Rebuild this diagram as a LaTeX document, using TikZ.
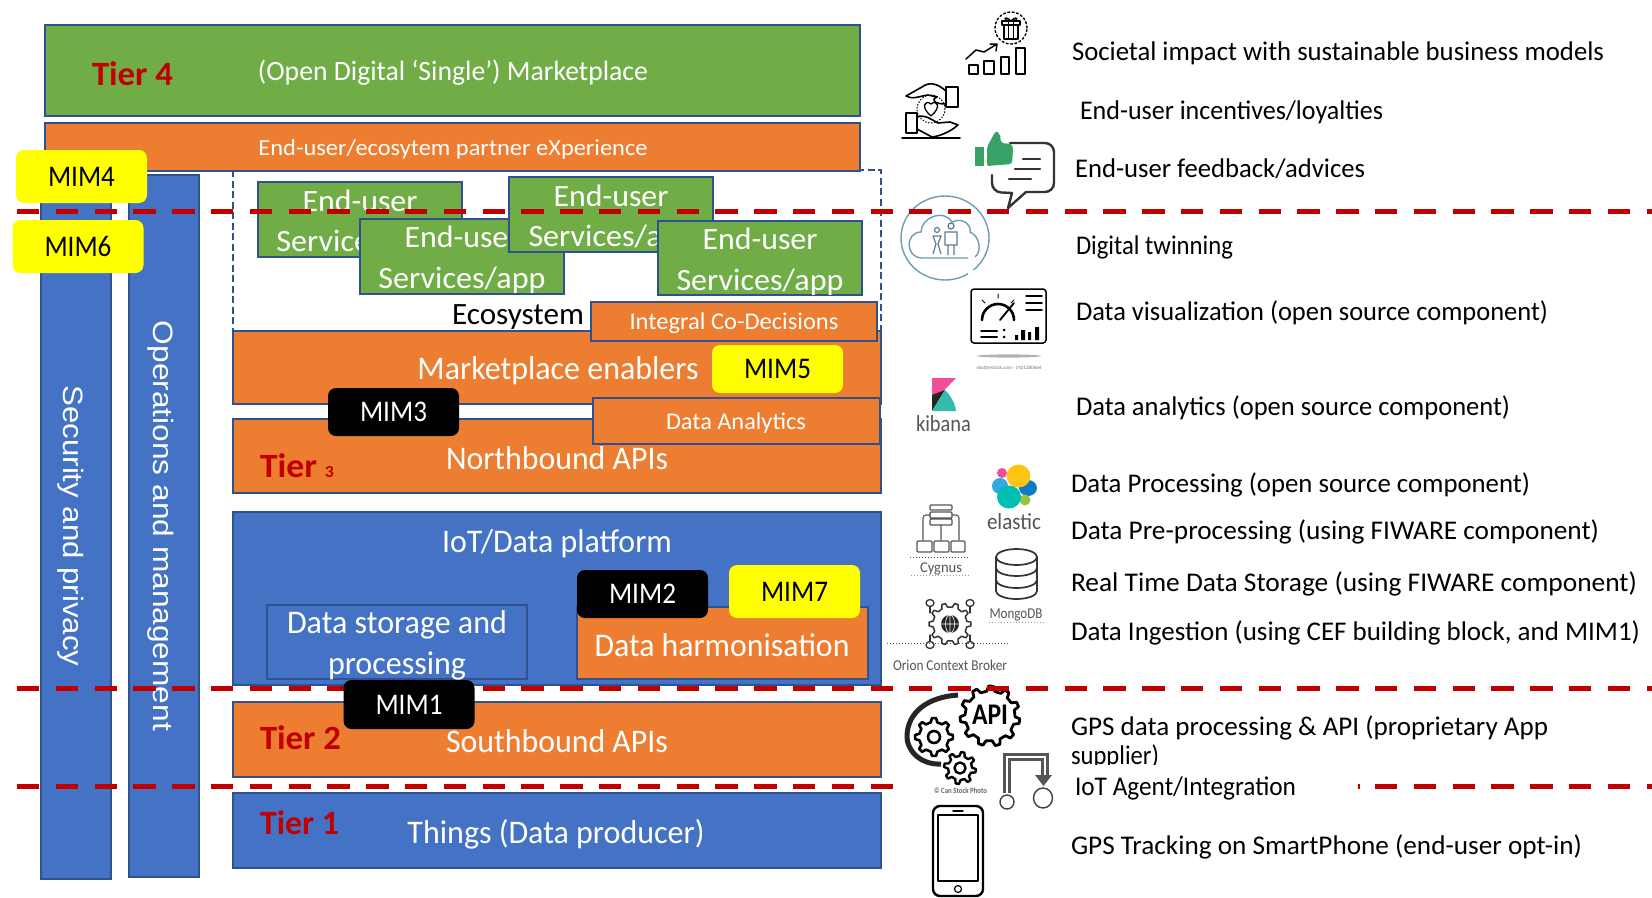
\documentclass[tikz,border=0pt]{standalone}
\usepackage{fontspec}
\usepackage{graphicx}
\setmainfont{Carlito}
\newfontfamily\arialf{Liberation Sans}
\usetikzlibrary{calc}
\definecolor{gbox}{HTML}{70AD47}
\definecolor{obox}{HTML}{ED7D31}
\definecolor{bbox}{HTML}{4472C4}
\definecolor{edge}{HTML}{2F528F}
\definecolor{redd}{HTML}{C00000}
\definecolor{yell}{HTML}{FFFF00}
\definecolor{thumbg}{HTML}{37A266}
\definecolor{twin}{HTML}{6E9DB5}
\definecolor{gy}{HTML}{555555}
\definecolor{pinkk}{HTML}{F04E98}
\definecolor{tealk}{HTML}{36BCAB}
\definecolor{bluel}{HTML}{2FA9E0}
\definecolor{blued}{HTML}{0E7CC2}
\definecolor{greene}{HTML}{93C83E}
\definecolor{yele}{HTML}{FEC514}
\definecolor{teale}{HTML}{00BFB3}
\tikzset{
  grn/.style={fill=gbox,draw=edge,line width=1.8pt},
  org/.style={fill=obox,draw=edge,line width=1.8pt},
  blu/.style={fill=bbox,draw=edge,line width=1.8pt},
  lay/.style={inner sep=0pt,outer sep=0pt,text=white,anchor=base,yshift=1pt},
  rgt/.style={inner sep=0pt,outer sep=0pt,text=black,anchor=base west,yshift=1pt,font=\fontsize{27}{32}\selectfont},
  tier/.style={inner sep=0pt,outer sep=0pt,text=redd,anchor=base west,font=\fontsize{34}{40}\selectfont\bfseries},
  mimy/.style={fill=yell,rounded corners=8pt,text=black,minimum width=131pt,minimum height=53pt,inner sep=0pt,font=\fontsize{30}{34}\selectfont},
  mimk/.style={fill=black,rounded corners=8pt,text=white,minimum width=131pt,minimum height=48pt,inner sep=0pt,font=\fontsize{30}{34}\selectfont},
  rdash/.style={draw=redd,line width=5pt,dash pattern=on 22.4pt off 16.4pt},
  ic/.style={draw=black,line width=1.8pt,line join=round,line cap=round},
  logot/.style={inner sep=0pt,outer sep=0pt,text=gy,anchor=base},
}
\newcommand{\fitw}[2]{\resizebox{#1pt}{\height}{#2}}
\newcommand{\cog}[7]{% cx cy ri ro n style rot
  \begin{scope}[shift={(#1,#2)}]
  \draw[#6] (#7-0.25*360/#5:#3)
   \foreach \k in {1,...,#5}{
     -- ({#7+(\k-1)*360/#5-0.14*360/#5}:#4)
     -- ({#7+(\k-1)*360/#5+0.14*360/#5}:#4)
     -- ({#7+(\k-1)*360/#5+0.28*360/#5}:#3)
     -- ({#7+\k*360/#5-0.28*360/#5}:#3)
   } -- cycle;
  \end{scope}}
\begin{document}
\begin{tikzpicture}[x=1pt,y=-1pt]
\useasboundingbox (0,0) rectangle (1652,897);
% ---- bars and layers
\fill[white] (0,0) rectangle (1652,897);
\draw[edge,line width=1.5pt,dash pattern=on 7pt off 3.5pt] (233,170) rectangle (881,331);
\draw[grn] (45,25) rectangle (860,116);
\draw[org] (45,123) rectangle (860,171);
\draw[blu] (41,175) rectangle (111,879);
\draw[blu] (129,175) rectangle (199,877);
\node[lay,rotate=-90,anchor=center,font=\fontsize{28}{32}\selectfont\arialf] (secur) at (71,527) {\fitw{281}{Security and privacy}};
\node[lay,rotate=-90,anchor=center,font=\fontsize{28}{32}\selectfont\arialf] (opman) at (161,527) {\fitw{410}{Operations and management}};
\node[tier] (t4) at (92,85) {\fitw{81}{Tier 4}};
\node[lay,font=\fontsize{28}{32}\selectfont] (odm) at (453,81) {\fitw{390}{(Open Digital ‘Single’) Marketplace}};
\node[lay,font=\fontsize{23}{28}\selectfont] (exp) at (453,156) {\fitw{389}{End-user/ecosytem partner eXperience}};
% ---- end-user services
\draw[grn] (258,182) rectangle (462,257);
\node[lay,font=\fontsize{31}{36}\selectfont] (ea1) at (360,212) {\fitw{115}{End-user}};
\node[lay,font=\fontsize{31}{36}\selectfont] (ea2) at (360,252) {\fitw{167}{Services/app}};
\draw[grn] (360,219) rectangle (564,294);
\node[lay,font=\fontsize{31}{36}\selectfont] (eb1) at (462,248) {\fitw{115}{End-user}};
\node[lay,font=\fontsize{31}{36}\selectfont] (eb2) at (462,289) {\fitw{167}{Services/app}};
\draw[grn] (509,177) rectangle (713,252);
\node[lay,font=\fontsize{31}{36}\selectfont] (ec1) at (611,207) {\fitw{115}{End-user}};
\node[lay,font=\fontsize{31}{36}\selectfont] (ec2) at (612,247) {\fitw{167}{Services/app}};
\draw[grn] (658,221) rectangle (862,295);
\node[lay,font=\fontsize{31}{36}\selectfont] (ed1) at (760,250) {\fitw{115}{End-user}};
\node[lay,font=\fontsize{31}{36}\selectfont] (ed2) at (760,291) {\fitw{167}{Services/app}};
\node[lay,text=black,font=\fontsize{31}{36}\selectfont] (ecos) at (518,325) {\fitw{132}{Ecosystem}};
% ---- tier 3
\draw[org] (233,331) rectangle (881,404);
\node[lay,font=\fontsize{33}{38}\selectfont] (mpe) at (558,380) {\fitw{281}{Marketplace enablers}};
\draw[org] (233,419) rectangle (881,493);
\node[lay,font=\fontsize{33}{38}\selectfont] (nba) at (557,470) {\fitw{222}{Northbound APIs}};
\node[tier] (t3) at (260,477) {\fitw{74}{Tier {\fontsize{17}{17}\selectfont 3}}};
\draw[org] (591,302) rectangle (877,341);
\node[lay,font=\fontsize{24}{28}\selectfont] (icd) at (734,330) {\fitw{209}{Integral Co-Decisions}};
\draw[org] (593,398) rectangle (880,444);
\node[lay,font=\fontsize{24}{28}\selectfont] (dan) at (736,430) {\fitw{140}{Data Analytics}};
% ---- platform
\draw[blu] (233,512) rectangle (881,685);
\node[lay,font=\fontsize{33}{38}\selectfont] (iot) at (557,553) {\fitw{230}{IoT/Data platform}};
\draw[blu] (267,605) rectangle (527,679);
\node[lay,font=\fontsize{33}{38}\selectfont] (ds1) at (397,634) {\fitw{220}{Data storage and}};
\node[lay,font=\fontsize{33}{38}\selectfont] (ds2) at (397,675) {\fitw{138}{processing}};
\draw[org] (577,607) rectangle (868,679);
\node[lay,font=\fontsize{33}{38}\selectfont] (dh) at (722,657) {\fitw{255}{Data harmonisation}};
% ---- tiers 2 and 1
\draw[org] (233,702) rectangle (881,777);
\node[lay,font=\fontsize{33}{38}\selectfont] (sba) at (557,753) {\fitw{222}{Southbound APIs}};
\node[tier] (t2) at (260,749) {\fitw{81}{Tier 2}};
\draw[blu] (233,793) rectangle (881,868);
\node[lay,font=\fontsize{33}{38}\selectfont] (thg) at (556,844) {\fitw{297}{Things (Data producer)}};
\node[tier] (t1) at (260,834) {\fitw{79}{Tier 1}};
% ---- right-hand texts
\node[rgt] (r1) at (1072,61) {\fitw{532}{Societal impact with sustainable business models}};
\node[rgt] (r2) at (1080,120) {\fitw{303}{End-user incentives/loyalties}};
\node[rgt] (r3) at (1075,178) {\fitw{290}{End-user feedback/advices}};
\node[rgt] (r4) at (1076,255) {\fitw{157}{Digital twinning}};
\node[rgt] (r5) at (1076,321) {\fitw{472}{Data visualization (open source component)}};
\node[rgt] (r6) at (1076,416) {\fitw{434}{Data analytics (open source component)}};
\node[rgt] (r7) at (1071,493) {\fitw{459}{Data Processing (open source component)}};
\node[rgt] (r8) at (1071,540) {\fitw{528}{Data Pre-processing (using FIWARE component)}};
\node[rgt] (r9) at (1071,592) {\fitw{566}{Real Time Data Storage (using FIWARE component)}};
\node[rgt] (r10) at (1071,641) {\fitw{569}{Data Ingestion (using CEF building block, and MIM1)}};
\node[rgt] (r11) at (1071,736) {\fitw{477}{GPS data processing \& API (proprietary App}};
\node[rgt] (r12) at (1071,765) {\fitw{88}{supplier)}};
\fill[white] (893,765) rectangle (1357,812);
\node[rgt] (r13) at (1075,796) {\fitw{221}{IoT Agent/Integration}};
\node[rgt] (r14) at (1071,855) {\fitw{511}{GPS Tracking on SmartPhone (end-user opt-in)}};
% ---- icon: gift and growth
\draw[ic,line width=1.4pt,dash pattern=on 2pt off 2.4pt] (1011,28) circle [x radius=16pt,y radius=16pt];
\draw[ic,line width=1.3pt] (1004,25) rectangle (1018,39);
\draw[ic,line width=1.3pt] (1002,21) rectangle (1020,25);
\draw[ic,line width=1.3pt] (1008.5,21)--(1008.5,39) (1013.5,21)--(1013.5,39);
\draw[ic,line width=1.3pt] (1011,21) .. controls (1004,14) and (1002,21) .. (1011,21) .. controls (1020,21) and (1018,14) .. (1011,21);
\draw[ic,line width=1.5pt] (969,65) rectangle (978,74) (984,61) rectangle (994,74) (1001,57) rectangle (1009,74) (1016,48) rectangle (1025,74);
\draw[ic,line width=1.5pt] (966,59) -- (976,50) -- (984,52) -- (997,44) (990,44)--(997,44)--(996,51);
% ---- icon: hands and heart
\draw[ic,line width=1.6pt] (946,87) rectangle (958,107);
\draw[ic,line width=1.6pt] (946,91) .. controls (938,84) and (930,81) .. (922,87) -- (906,96) .. controls (912,100) and (920,96) .. (928,95) -- (937,97) .. controls (930,100) and (935,104) .. (946,104);
\draw[ic,line width=1.6pt] (906,113) rectangle (917,133);
\draw[ic,line width=1.6pt] (917,117) .. controls (925,114) and (932,120) .. (938,123) -- (950,122) -- (958,125) .. controls (950,132) and (940,136) .. (932,137) -- (917,129);
\draw[ic,line width=1.8pt] (902,138)--(960,138);
\draw[ic,line width=1.3pt] (931,116) .. controls (920,107) and (925,99) .. (931,104) .. controls (937,99) and (942,107) .. (931,116);
\draw[ic,line width=1pt,dotted] (931,109) circle [x radius=14pt,y radius=14pt];
% ---- icon: feedback
\fill[thumbg] (975,147) rectangle (984,166);
\fill[thumbg,rounded corners=2pt] (987,147) -- (994,134) -- (996,131) -- (1000,134) -- (1001,143) -- (1012,144) -- (1013,150) -- (1012,164) -- (987,166) -- cycle;
\draw[ic,draw=black!80,line width=2.4pt,rounded corners=9pt] (1010,143) -- (1054,143) -- (1054,192) -- (1026,192);
\draw[ic,draw=black!80,line width=2.4pt] (1026,192) -- (1008,208) -- (1012,193);
\draw[ic,draw=black!80,line width=2.4pt,rounded corners=9pt] (1012,193) -- (992,192) -- (992,175);
\draw[ic,draw=black!80,line width=2.2pt] (1023,159)--(1040,159) (1015,169)--(1040,169) (1009,179)--(1031,179);
% ---- icon: digital twin
\draw[twin,line width=1.4pt] (945,238) ellipse [x radius=44pt,y radius=42pt];
\fill[white] (968,270) rectangle (985,285);
\draw[twin,line width=1.4pt] (968,258) -- (922,258) .. controls (905,258) and (905,232) .. (921,232) .. controls (921,218) and (943,208) .. (952,222) .. controls (965,216) and (972,228) .. (970,232) .. controls (980,236) and (982,252) .. (975,257);
\draw[twin!80!black,line width=1.3pt] (951,226) circle [x radius=3pt,y radius=3pt] (945,232) rectangle (957,245) (948,245)--(948,255) (954,245)--(954,255);
\draw[twin!80!black,line width=1.2pt] (937,230) circle [x radius=2.5pt,y radius=2.5pt] (933,236)--(941,236)--(938,244)--(941,254) (933,236)--(936,244)--(933,254);
% ---- icon: dashboard
\draw[ic,line width=1.5pt,rounded corners=3pt] (971,289) rectangle (1046,343);
\draw[ic,line width=2.6pt] (982,320) arc[start angle=180,end angle=0,x radius=16pt,y radius=16pt];
\draw[ic,line width=1.8pt] (1000,320)--(1014,303);
\draw[ic,line width=1pt] (998,294)--(998,298) (982,300)--(985,303) (1014,300)--(1011,303);
\draw[ic,line width=1.5pt] (1026,296)--(1042,296) (1026,303)--(1042,303) (1026,310)--(1042,310);
\draw[ic,line width=2pt] (981,331)--(997,331) (981,337)--(997,337);
\fill (1004,330) circle [x radius=1.5pt,y radius=1.5pt] (1004,337) circle [x radius=1.5pt,y radius=1.5pt];
\fill (1015,335) rectangle (1018,340) (1021,330) rectangle (1025,340) (1028,332) rectangle (1031,340) (1035,327) rectangle (1039,340);
\fill[black!30] (1009,356) ellipse [x radius=32pt,y radius=1.6pt];
\node[logot,text=black!55,font=\fontsize{5}{6}\selectfont] (sst) at (1009,369) {\fitw{65}{shutterstock.com · 1421280664}};
% ---- icon: kibana
\fill[pinkk] (932,378) -- (956,378) -- (932,403) -- cycle;
\fill[black!85] (932,395) -- (945,390) -- (932,411) -- cycle;
\fill[tealk] (956,411) -- (932,411) -- (945,390) .. controls (951,396) and (955,403) .. (956,411) -- cycle;
\node[logot,font=\fontsize{23}{26}\selectfont] (kib) at (943.5,431) {\fitw{55}{kibana}};
% ---- icon: elastic
\fill[bluel] (1000,486) ellipse [x radius=8pt,y radius=8pt];
\fill[blued] (1028,488) ellipse [x radius=9pt,y radius=8pt];
\fill[pinkk] (1002,473) ellipse [x radius=5pt,y radius=5pt];
\fill[greene] (1025,500) ellipse [x radius=5.5pt,y radius=5.5pt];
\fill[yele] (1018.5,476) ellipse [x radius=12pt,y radius=11.5pt];
\fill[teale] (1009,497) ellipse [x radius=12pt,y radius=11.5pt];
\node[logot,font=\fontsize{23}{26}\selectfont] (ela) at (1014,529) {\fitw{54}{elastic}};
% ---- icon: cygnus
\draw[ic,draw=gy,line width=1.3pt,rounded corners=1pt] (930,505) rectangle (952,510) (930,512) rectangle (952,518) (930,519) rectangle (952,525);
\draw[ic,draw=gy,line width=1.1pt,rounded corners=3pt] (930,515)--(923,515)--(923,540) (952,515)--(959,515)--(959,540) (941,525)--(941,540);
\draw[ic,draw=gy,line width=1.2pt,rounded corners=1pt] (917,541) rectangle (932,552) (934,541) rectangle (949,552) (951,541) rectangle (965,552);
\draw[gy,line width=1pt,dotted] (910,557)--(969,557);
\node[logot,font=\fontsize{15}{18}\selectfont] (cyg) at (941,572) {\fitw{42}{Cygnus}};
\draw[bbox!70,line width=1pt,dotted] (911,575)--(969,575);
% ---- icon: mongodb
\draw[ic,draw=black!80,line width=1.7pt] (1016.5,557) ellipse [x radius=20.5pt,y radius=8pt];
\draw[ic,draw=black!80,line width=1.7pt] (996,557)--(996,591) arc[start angle=180,end angle=360,x radius=20.5pt,y radius=8pt] -- (1037,557);
\draw[ic,draw=black!80,line width=1.7pt] (996,568) arc[start angle=180,end angle=360,x radius=20.5pt,y radius=8pt] (996,580) arc[start angle=180,end angle=360,x radius=20.5pt,y radius=8pt];
\node[logot,font=\fontsize{15}{18}\selectfont] (mon) at (1016,618) {\fitw{53}{MongoDB}};
\draw[bbox!70,line width=1pt,dotted] (989,622)--(1044,622);
% ---- icon: orion
\cog{950}{624}{17}{21}{10}{ic,draw=black!80,line width=1.5pt}{0}
\fill[black!85] (950,624) circle [x radius=9pt,y radius=9pt];
\draw[white,line width=.6pt] (941,624)--(959,624) (950,615)--(950,633) (950,624) ellipse [x radius=4.5pt,y radius=9pt];
\draw[ic,draw=black!80,line width=1.2pt] (930,607)--(930,613) (970,607)--(970,613) (930,635)--(930,641) (970,635)--(970,641);
\draw[ic,draw=black!80,line width=1.3pt] (930,603) circle [x radius=4pt,y radius=3.5pt] (970,603) circle [x radius=4pt,y radius=3.5pt] (930,645) circle [x radius=4pt,y radius=3.5pt] (970,645) circle [x radius=4pt,y radius=3.5pt];
\draw[gy,line width=1pt,dotted] (887,643)--(1010,643);
\node[logot,font=\fontsize{15}{18}\selectfont] (ori) at (950,670) {\fitw{114}{Orion Context Broker}};
% ---- icon: api and gears
\draw[black!85,line width=5pt,line cap=butt] (958,695) .. controls (928,697) and (907,712) .. (907,737) .. controls (907,750) and (920,765) .. (941,764);
\cog{990}{716}{25}{30}{11}{ic,line width=2.8pt,fill=white}{10}
\node[inner sep=0pt,text=black,font=\fontsize{30}{34}\selectfont\bfseries] (api) at (990,715) {\fitw{36}{API}};
\cog{934}{737}{15}{19}{8}{ic,line width=2.6pt,fill=white}{0}
\draw[ic,line width=2.6pt] (934,737) circle [x radius=6pt,y radius=6pt];
\cog{960}{768}{12}{16}{8}{ic,line width=2.4pt,fill=white}{10}
\draw[ic,line width=2.4pt] (960,768) circle [x radius=5.5pt,y radius=5.5pt];
\node[logot,text=black!60,font=\fontsize{8}{9}\selectfont\bfseries] (csp) at (960.5,793) {\fitw{53}{© Can Stock Photo}};
% ---- icon: integration
\draw[gy,line width=3.4pt,double=white,double distance=1.8pt] (1007,793)--(1007,757)--(1045,757)--(1045,775);
\fill[gy] (1035,775)--(1052,775)--(1043.5,786)--cycle;
\draw[ic,draw=black!75,line width=1.4pt] (1007,802) circle [x radius=7pt,y radius=7pt] (1043,798) circle [x radius=9.5pt,y radius=10pt];
% ---- icon: phone
\draw[ic,line width=2.4pt,rounded corners=7pt] (933,806) rectangle (983,896);
\draw[ic,line width=1.2pt] (938,815) rectangle (978,881);
\draw[ic,line width=1.4pt] (953,811)--(963,811);
\draw[ic,line width=1.2pt] (958,889) circle [x radius=3.5pt,y radius=3.5pt];
% ---- red separators
\draw[rdash] (17,211)--(1652,211);
\draw[rdash] (17,688)--(1652,688);
\draw[rdash] (17,786)--(893,786);
\draw[rdash] (1375,786)--(1652,786);
\draw[redd,line width=5pt] (1358,786)--(1359.5,786);
% ---- interoperability badges
\node[mimy] (mim4) at (81.5,176.5) {\fitw{67}{MIM4}};
\node[mimy] (mim6) at (78,246.5) {\fitw{67}{MIM6}};
\node[mimy,minimum height=48pt] (mim5) at (777.5,369) {\fitw{67}{MIM5}};
\node[mimk] (mim3) at (393.5,412) {\fitw{67}{MIM3}};
\node[mimk] (mim2) at (642.5,594) {\fitw{67}{MIM2}};
\node[mimy] (mim7) at (794.5,591.5) {\fitw{67}{MIM7}};
\node[mimk,minimum height=49pt] (mim1) at (409,704.5) {\fitw{67}{MIM1}};
\end{tikzpicture}
\end{document}
